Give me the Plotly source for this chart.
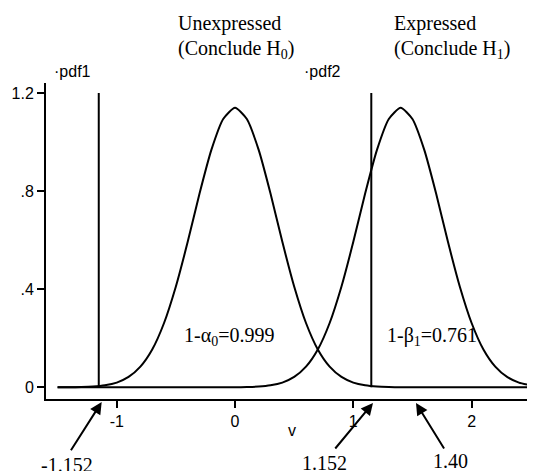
import plotly.graph_objects as go

# ---- data ----
v = [round(-1.5 + 0.1 * i, 1) for i in range(41)]  # grid -1.5 .. 2.5
pdf1 = [0.000, 0.000, 0.001, 0.003, 0.008, 0.019, 0.042, 0.084, 0.154, 0.262,
        0.411, 0.593, 0.790, 0.968, 1.094, 1.140, 1.094, 0.968, 0.790, 0.593,
        0.411, 0.262, 0.154, 0.084, 0.042, 0.019, 0.008, 0.003, 0.001, 0.000,
        0.000, 0.000, 0.000, 0.000, 0.000, 0.000, 0.000, 0.000, 0.000, 0.000,
        0.000]
pdf2 = [0.000, 0.000, 0.000, 0.000, 0.000, 0.000, 0.000, 0.000, 0.000, 0.000,
        0.000, 0.000, 0.000, 0.000, 0.000, 0.000, 0.001, 0.003, 0.008, 0.019,
        0.042, 0.084, 0.154, 0.262, 0.411, 0.593, 0.790, 0.968, 1.094, 1.140,
        1.094, 0.968, 0.790, 0.593, 0.411, 0.262, 0.154, 0.084, 0.042, 0.019,
        0.008]
critical = [-1.152, 1.152]
critical_top = 1.2
mean2 = 1.40
xticks = [-1, 0, 1, 2]
xticklabels = ["-1", "0", "1", "2"]
yticks = [0, 0.4, 0.8, 1.2]
yticklabels = ["0", ".4", ".8", "1.2"]

SANS = "Liberation Sans, Arial, sans-serif"
SERIF = "Liberation Serif, Times New Roman, serif"

# plot area in the page (the page body adds an 8px offset)
PL, PR, PT, PB = 46, 535, 83, 399
def px(x):
    return (x - PL) / (PR - PL)
def py(y):
    return (PB - y) / (PB - PT)

fig = go.Figure()
line = dict(color="black", width=2, shape="spline", smoothing=0.6)
fig.add_trace(go.Scatter(x=v, y=pdf1, mode="lines", line=line, name="pdf1"))
fig.add_trace(go.Scatter(x=v, y=pdf2, mode="lines", line=line, name="pdf2"))
for c in critical:
    fig.add_trace(go.Scatter(x=[c, c], y=[0, critical_top], mode="lines",
                             line=dict(color="black", width=2)))

ann = []
def txt(x, y, s, anchor="left", size=20, fam=SERIF):
    ann.append(dict(x=px(x), y=py(y), xref="paper", yref="paper", text=s,
                    showarrow=False, xanchor=anchor, yanchor="middle",
                    font=dict(family=fam, size=size, color="black")))

txt(176, 24, "Unexpressed")
txt(176, 49, "(Conclude H<sub>0</sub>)")
txt(392, 24, "Expressed")
txt(392, 49, "(Conclude H<sub>1</sub>)")
txt(182, 336, "1-α<sub>0</sub>=0.999")
txt(385, 336, "1-β<sub>1</sub>=0.761")
txt(66.5, 465, f"{critical[0]:.3f}", anchor="center")
txt(324, 463, f"{critical[1]:.3f}", anchor="center")
txt(450, 461, f"{mean2:.2f}", anchor="center")
txt(292, 430, "v", anchor="center", size=16, fam=SANS)
txt(52, 71, "·pdf1", size=16, fam=SANS)
txt(301.5, 71, "·pdf2", size=16, fam=SANS)

arrows = [((101.7, 402), (70, 451.7)),
          ((373, 403), (334, 450)),
          ((416, 403), (445, 450))]
for (hx, hy), (tx, ty) in arrows:
    ann.append(dict(x=px(hx), y=py(hy), ax=tx - hx, ay=ty - hy,
                    xref="paper", yref="paper", showarrow=True, text="",
                    arrowhead=2, arrowsize=1.2, arrowwidth=2, arrowcolor="black"))

fig.update_layout(
    width=527, height=463,
    margin=dict(l=PL - 8, r=0, t=PT - 8, b=471 - PB),
    plot_bgcolor="white", paper_bgcolor="white",
    showlegend=False,
    annotations=ann,
    xaxis=dict(range=[-1.598, 2.536], tickvals=xticks, ticktext=xticklabels,
               showgrid=False, zeroline=False, showline=True, linecolor="black",
               linewidth=2, ticks="outside", ticklen=7, tickwidth=1.5,
               tickcolor="black", tickfont=dict(family=SANS, size=16, color="black")),
    yaxis=dict(range=[-0.048, 1.241], tickvals=yticks, ticktext=yticklabels,
               showgrid=False, zeroline=False, showline=True, linecolor="black",
               linewidth=2, ticks="outside", ticklen=7, tickwidth=1.5,
               tickcolor="black", tickfont=dict(family=SANS, size=16, color="black")),
)

fig.write_html("out.html")
